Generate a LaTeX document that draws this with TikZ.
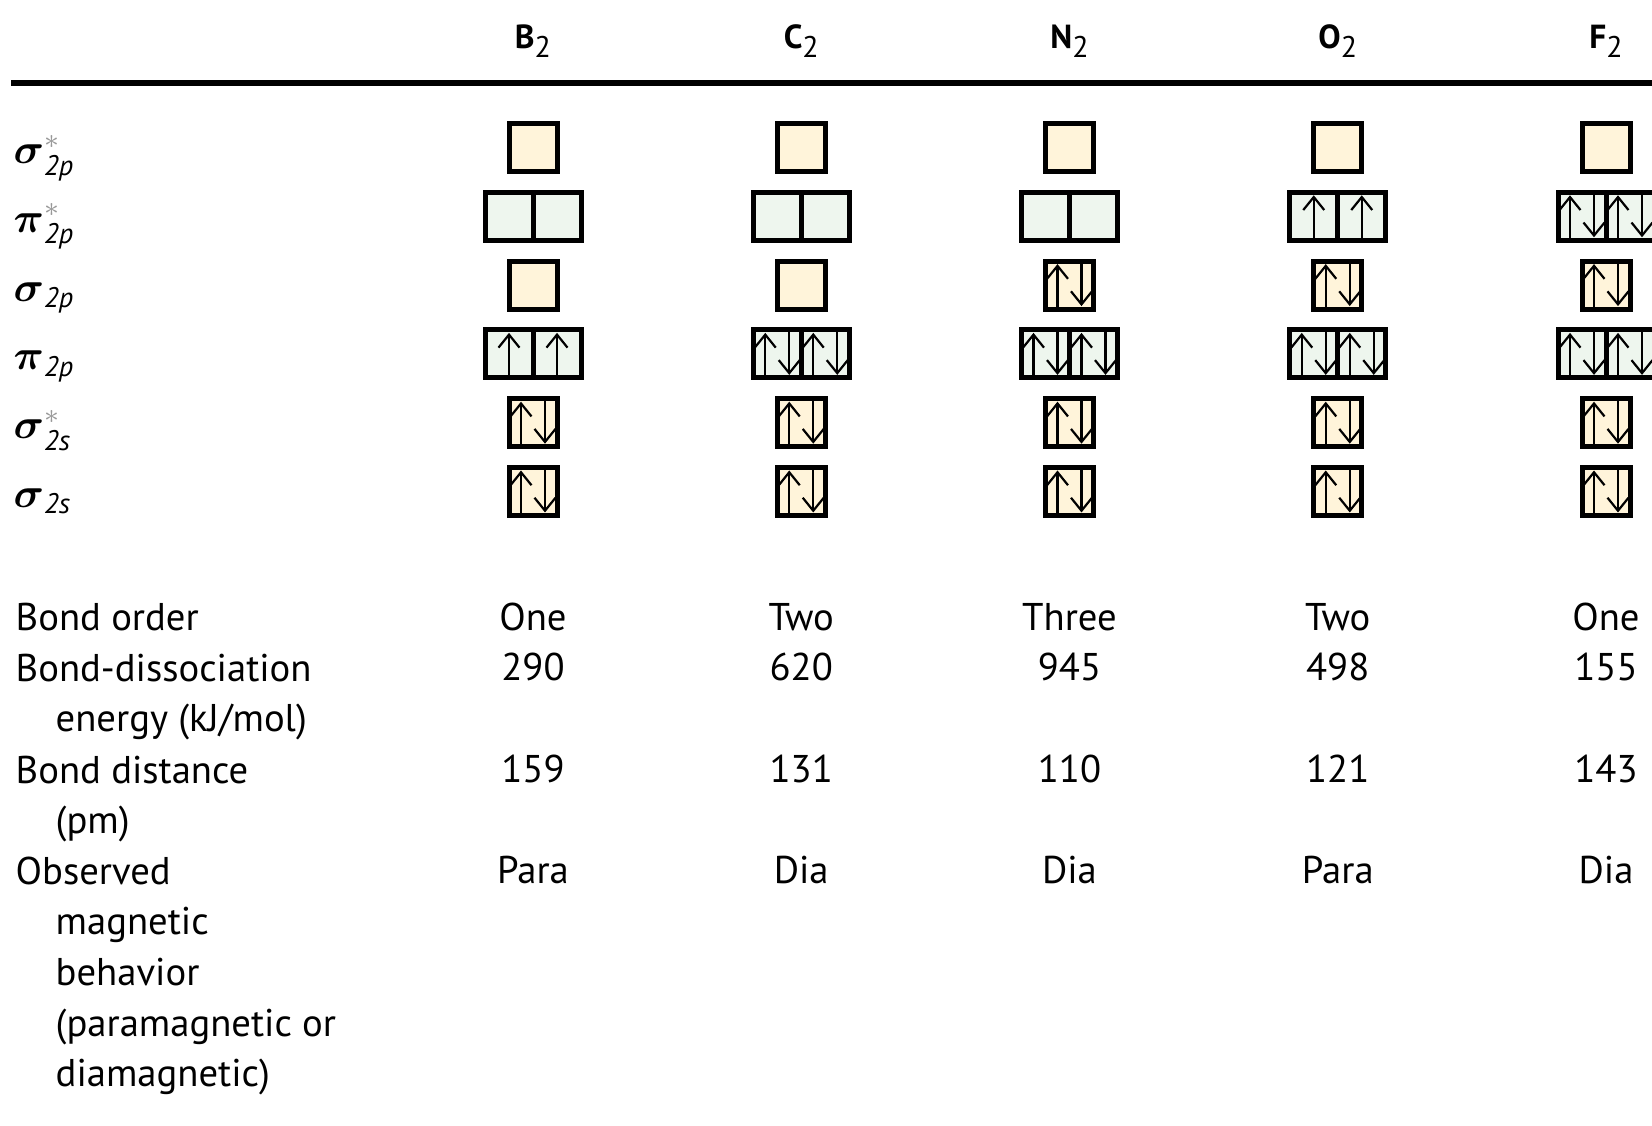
\documentclass[tikz,border=0pt]{standalone}
\usepackage{amsmath}
\usepackage{fontspec}
\setmainfont{PT Sans}
\usepackage{tikz}
\usetikzlibrary{arrows.meta}
\usepackage{xcolor}
\definecolor{sigma_fill}{HTML}{FFF4DA}
\definecolor{pi_fill}{HTML}{EEF6EE}

% electrons in one cell: 0, 1 (up) or 2 (up and down)
\newcommand{\spins}[3]{%
  \ifcase #3 \or
    \draw[spin] (#1,#2+24) -- (#1,#2-21);
  \or
    \draw[spin] (#1-12,#2+24) -- (#1-12,#2-21);
    \draw[spin] (#1+12,#2-24) -- (#1+12,#2+21);
  \fi}
% sigma orbital: one cell
\newcommand{\orbone}[4]{%
  \node[orb, fill=sigma_fill] (#1) at (#2,#3) {};
  \spins{#2}{#3}{#4}}
% pi orbitals: two cells side by side
\newcommand{\orbtwo}[5]{%
  \node[orb, fill=pi_fill] (#1a) at (#2-24,#3) {};
  \node[orb, fill=pi_fill] (#1b) at (#2+24,#3) {};
  \spins{#2-24}{#3}{#4}\spins{#2+24}{#3}{#5}}
\newcommand{\mol}[1]{\textbf{#1}\raisebox{-2.3pt}{\fontsize{8.5}{10}\selectfont 2}}
\newcommand{\ind}{\hspace*{4mm}}

\begin{document}
\begin{tikzpicture}[x=0.1mm, y=-0.1mm,
    orb/.style={draw, line width=0.5mm, minimum size=4.8mm, inner sep=0pt},
    spin/.style={line width=0.22mm, -{Straight Barb[length=1.3mm, width=2.1mm]}},
    txt/.style={inner sep=0pt, anchor=base, font=\fontsize{11}{14.4}\selectfont},
    rowlbl/.style={txt, anchor=base west, align=left},
    mo/.style={inner sep=0pt, anchor=base west, font=\fontsize{11.5}{14}\selectfont},
    head/.style={inner sep=0pt, anchor=base, font=\fontsize{9.5}{11}\selectfont}]
	\useasboundingbox (0,0) rectangle (1652,1126);
	\node[head] (head_B) at (533,49) {\mol{B}};
	\node[head] (head_C) at (801.25,49) {\mol{C}};
	\node[head] (head_N) at (1069.5,49) {\mol{N}};
	\node[head] (head_O) at (1337.75,49) {\mol{O}};
	\node[head] (head_F) at (1606,49) {\mol{F}};
	\draw[line width=0.6mm] (11,83.5) -- (1660,83.5);
	\node[mo] (lbl_ss2p) at (13,163.5) {$\boldsymbol{\sigma}^{\textcolor{black!40}{\ast}}_{\textit{2p}}$};
	\node[mo] (lbl_ps2p) at (13,232.3) {$\boldsymbol{\pi}^{\textcolor{black!40}{\ast}}_{\textit{2p}}$};
	\node[mo] (lbl_s2p) at (13,301.1) {$\boldsymbol{\sigma}_{\textit{2p}}$};
	\node[mo] (lbl_p2p) at (13,369.9) {$\boldsymbol{\pi}_{\textit{2p}}$};
	\node[mo] (lbl_ss2s) at (13,438.7) {$\boldsymbol{\sigma}^{\textcolor{black!40}{\ast}}_{\textit{2s}}$};
	\node[mo] (lbl_s2s) at (13,507.5) {$\boldsymbol{\sigma}_{\textit{2s}}$};
	% B2
	\orbone{B_ss2p}{533}{147.5}{0}
	\orbtwo{B_ps2p}{533}{216.3}{0}{0}
	\orbone{B_s2p}{533}{285.1}{0}
	\orbtwo{B_p2p}{533}{353.9}{1}{1}
	\orbone{B_ss2s}{533}{422.7}{2}
	\orbone{B_s2s}{533}{491.5}{2}
	% C2
	\orbone{C_ss2p}{801.25}{147.5}{0}
	\orbtwo{C_ps2p}{801.25}{216.3}{0}{0}
	\orbone{C_s2p}{801.25}{285.1}{0}
	\orbtwo{C_p2p}{801.25}{353.9}{2}{2}
	\orbone{C_ss2s}{801.25}{422.7}{2}
	\orbone{C_s2s}{801.25}{491.5}{2}
	% N2
	\orbone{N_ss2p}{1069.5}{147.5}{0}
	\orbtwo{N_ps2p}{1069.5}{216.3}{0}{0}
	\orbone{N_s2p}{1069.5}{285.1}{2}
	\orbtwo{N_p2p}{1069.5}{353.9}{2}{2}
	\orbone{N_ss2s}{1069.5}{422.7}{2}
	\orbone{N_s2s}{1069.5}{491.5}{2}
	% O2
	\orbone{O_ss2p}{1337.75}{147.5}{0}
	\orbtwo{O_ps2p}{1337.75}{216.3}{1}{1}
	\orbone{O_s2p}{1337.75}{285.1}{2}
	\orbtwo{O_p2p}{1337.75}{353.9}{2}{2}
	\orbone{O_ss2s}{1337.75}{422.7}{2}
	\orbone{O_s2s}{1337.75}{491.5}{2}
	% F2
	\orbone{F_ss2p}{1606}{147.5}{0}
	\orbtwo{F_ps2p}{1606}{216.3}{2}{2}
	\orbone{F_s2p}{1606}{285.1}{2}
	\orbtwo{F_p2p}{1606}{353.9}{2}{2}
	\orbone{F_ss2s}{1606}{422.7}{2}
	\orbone{F_s2s}{1606}{491.5}{2}
	% properties
	\node[rowlbl] (order) at (15,631) {Bond order};
	\node[rowlbl, anchor=north west] (energy) at (15,653) {Bond-dissociation\\\ind energy (kJ/mol)};
	\node[rowlbl, anchor=north west] (dist) at (15,755) {Bond distance\\\ind (pm)};
	\node[rowlbl, anchor=north west] (magn) at (15,856) {Observed\\\ind magnetic\\\ind behavior\\\ind (paramagnetic or\\\ind diamagnetic)};
	\node[txt] (order_B) at (533,631) {One};
	\node[txt] (order_C) at (801.25,631) {Two};
	\node[txt] (order_N) at (1069.5,631) {Three};
	\node[txt] (order_O) at (1337.75,631) {Two};
	\node[txt] (order_F) at (1606,631) {One};
	\node[txt] (energy_B) at (533,681) {290};
	\node[txt] (energy_C) at (801.25,681) {620};
	\node[txt] (energy_N) at (1069.5,681) {945};
	\node[txt] (energy_O) at (1337.75,681) {498};
	\node[txt] (energy_F) at (1606,681) {155};
	\node[txt] (dist_B) at (533,783) {159};
	\node[txt] (dist_C) at (801.25,783) {131};
	\node[txt] (dist_N) at (1069.5,783) {110};
	\node[txt] (dist_O) at (1337.75,783) {121};
	\node[txt] (dist_F) at (1606,783) {143};
	\node[txt] (magn_B) at (533,884) {Para};
	\node[txt] (magn_C) at (801.25,884) {Dia};
	\node[txt] (magn_N) at (1069.5,884) {Dia};
	\node[txt] (magn_O) at (1337.75,884) {Para};
	\node[txt] (magn_F) at (1606,884) {Dia};
\end{tikzpicture}
\end{document}
